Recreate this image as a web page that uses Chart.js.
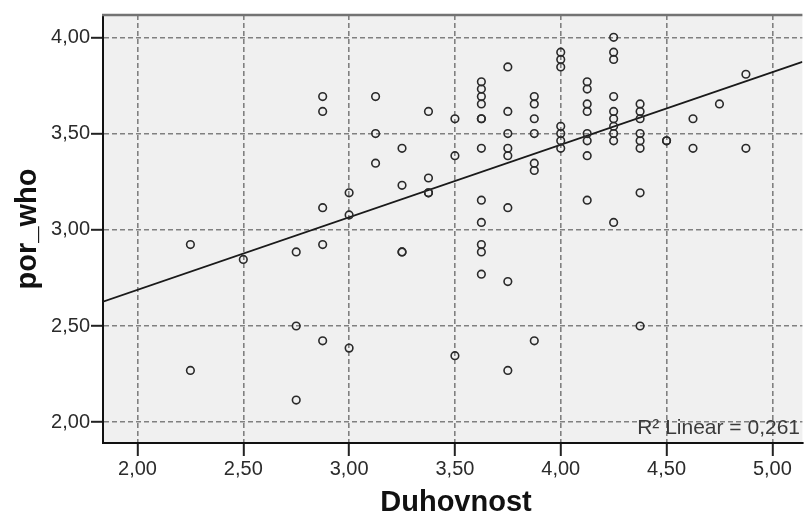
<!DOCTYPE html>
<html>
<head>
<meta charset="utf-8">
<script src="https://cdn.jsdelivr.net/npm/chart.js@4.4.1/dist/chart.umd.min.js"></script>
<style>
    html, body { margin: 0; padding: 0; background: #ffffff; }
</style>
</head>
<body>
<canvas id="graficoDisperso" width="808" height="527"></canvas>
<script>
// Valores (x = Duhovnost, y = por_who), coluna por coluna
var duhovnost = [
    2.25, 2.25,
    2.5,
    2.75, 2.75, 2.75,
    2.875, 2.875, 2.875, 2.875, 2.875,
    3.0, 3.0, 3.0,
    3.125, 3.125, 3.125,
    3.25, 3.25, 3.25, 3.25,
    3.375, 3.375, 3.375, 3.375,
    3.5, 3.5, 3.5,
    3.625, 3.625, 3.625, 3.625, 3.625, 3.625, 3.625, 3.625, 3.625, 3.625, 3.625, 3.625,
    3.75, 3.75, 3.75, 3.75, 3.75, 3.75, 3.75, 3.75,
    3.875, 3.875, 3.875, 3.875, 3.875, 3.875, 3.875,
    4.0, 4.0, 4.0, 4.0, 4.0, 4.0, 4.0,
    4.125, 4.125, 4.125, 4.125, 4.125, 4.125, 4.125, 4.125,
    4.25, 4.25, 4.25, 4.25, 4.25, 4.25, 4.25, 4.25, 4.25, 4.25,
    4.375, 4.375, 4.375, 4.375, 4.375, 4.375, 4.375, 4.375,
    4.5, 4.5,
    4.625, 4.625,
    4.75,
    4.875, 4.875
];
var porWho = [
    2.923, 2.269,
    2.846,
    2.885, 2.5, 2.115,
    3.692, 3.615, 3.115, 2.923, 2.423,
    3.192, 3.077, 2.385,
    3.692, 3.5, 3.346,
    3.423, 3.231, 2.885, 2.885,
    3.615, 3.269, 3.192, 3.192,
    3.577, 3.385, 2.346,
    3.769, 3.731, 3.692, 3.654, 3.577, 3.577, 3.423, 3.154, 3.038, 2.923, 2.885, 2.769,
    3.846, 3.615, 3.5, 3.423, 3.385, 3.115, 2.731, 2.269,
    3.692, 3.654, 3.577, 3.5, 3.346, 3.308, 2.423,
    3.923, 3.885, 3.846, 3.538, 3.5, 3.462, 3.423,
    3.769, 3.731, 3.654, 3.615, 3.5, 3.462, 3.385, 3.154,
    4.0, 3.923, 3.885, 3.692, 3.615, 3.577, 3.538, 3.5, 3.462, 3.038,
    3.654, 3.615, 3.577, 3.5, 3.462, 3.423, 3.192, 2.5,
    3.462, 3.462,
    3.577, 3.423,
    3.654,
    3.808, 3.423
];

// Eixos e marcas
var xTicks = [2.0, 2.5, 3.0, 3.5, 4.0, 4.5, 5.0];
var xTickLabels = ['2,00', '2,50', '3,00', '3,50', '4,00', '4,50', '5,00'];
var yTicks = [2.0, 2.5, 3.0, 3.5, 4.0];
var yTickLabels = ['2,00', '2,50', '3,00', '3,50', '4,00'];
var xMin = 1.837, xMax = 5.142;
var yMin = 1.892, yMax = 4.116;

// Reta de regressão linear
var retaIntercepto = 1.934;
var retaInclinacao = 0.377;
var r2Texto = 'R\u00B2 Linear = 0,261';

var xTitulo = 'Duhovnost';
var yTitulo = 'por_who';

var pontos = duhovnost.map(function (x, i) {
    return { x: x, y: porWho[i] };
});
var reta = [xMin, xMax].map(function (x) {
    return { x: x, y: retaIntercepto + retaInclinacao * x };
});

var fonteTicks = { family: 'Arial, "Liberation Sans", sans-serif', size: 20 };

var fundoPlugin = {
    id: 'fundo',
    beforeDraw: function (chart) {
        var a = chart.chartArea;
        var ctx = chart.ctx;
        ctx.save();
        ctx.fillStyle = '#ffffff';
        ctx.fillRect(0, 0, chart.width, chart.height);
        ctx.fillStyle = '#f0f0f0';
        ctx.fillRect(a.left, a.top, a.right - a.left, a.bottom - a.top);
        ctx.restore();
    },
    afterDraw: function (chart) {
        var a = chart.chartArea;
        var ctx = chart.ctx;
        ctx.save();

        // borda superior
        ctx.strokeStyle = '#737373';
        ctx.lineWidth = 2.5;
        ctx.beginPath();
        ctx.moveTo(a.left - 1, a.top);
        ctx.lineTo(a.right, a.top);
        ctx.stroke();

        // texto do R²
        ctx.fillStyle = '#3a3a3a';
        ctx.font = '21px Arial, "Liberation Sans", sans-serif';
        ctx.textAlign = 'right';
        ctx.textBaseline = 'middle';
        ctx.fillText(r2Texto, 800, 428);

        // títulos dos eixos
        ctx.fillStyle = '#111111';
        ctx.font = 'bold 29px Arial, "Liberation Sans", sans-serif';
        ctx.textAlign = 'center';
        ctx.fillText(xTitulo, 456, 503);

        ctx.translate(28, (a.top + a.bottom) / 2);
        ctx.rotate(-Math.PI / 2);
        ctx.fillText(yTitulo, 0, 0);
        ctx.restore();
    }
};

var ctx = document.getElementById('graficoDisperso').getContext('2d');
var chartInstance = new Chart(ctx, {
    type: 'scatter',
    data: {
        datasets: [{
            type: 'scatter',
            data: pontos,
            pointStyle: 'circle',
            pointRadius: 3.8,
            pointBorderWidth: 1.6,
            borderColor: '#2a2a2a',
            backgroundColor: 'rgba(0,0,0,0)',
            order: 1
        }, {
            type: 'line',
            data: reta,
            borderColor: '#1a1a1a',
            borderWidth: 1.8,
            pointRadius: 0,
            fill: false,
            order: 2
        }]
    },
    options: {
        responsive: false,
        animation: false,
        devicePixelRatio: 1,
        layout: { padding: { top: 15, left: 0, right: 0, bottom: 0 } },
        plugins: {
            legend: { display: false },
            tooltip: { enabled: false }
        },
        scales: {
            x: {
                type: 'linear',
                min: xMin,
                max: xMax,
                afterBuildTicks: function (scale) {
                    scale.ticks = xTicks.map(function (v) { return { value: v }; });
                },
                afterFit: function (scale) {
                    scale.height = 84;
                },
                ticks: {
                    autoSkip: false,
                    maxRotation: 0,
                    padding: 1,
                    color: '#2b2b2b',
                    font: fonteTicks,
                    callback: function (v) {
                        return xTickLabels[xTicks.indexOf(v)];
                    }
                },
                grid: {
                    color: '#808080',
                    lineWidth: 1.6,
                    tickLength: 13,
                    tickColor: '#222222',
                    tickWidth: 2
                },
                border: { display: true, color: '#111111', width: 2, dash: [5, 3] }
            },
            y: {
                type: 'linear',
                min: yMin,
                max: yMax,
                afterBuildTicks: function (scale) {
                    scale.ticks = yTicks.map(function (v) { return { value: v }; });
                },
                afterFit: function (scale) {
                    scale.width = 103;
                },
                ticks: {
                    autoSkip: false,
                    padding: 1,
                    color: '#2b2b2b',
                    font: fonteTicks,
                    callback: function (v) {
                        return yTickLabels[yTicks.indexOf(v)];
                    }
                },
                grid: {
                    color: '#808080',
                    lineWidth: 1.6,
                    tickLength: 12,
                    tickColor: '#222222',
                    tickWidth: 2
                },
                border: { display: true, color: '#111111', width: 2, dash: [5, 3] }
            }
        }
    },
    plugins: [fundoPlugin]
});
</script>
</body>
</html>
